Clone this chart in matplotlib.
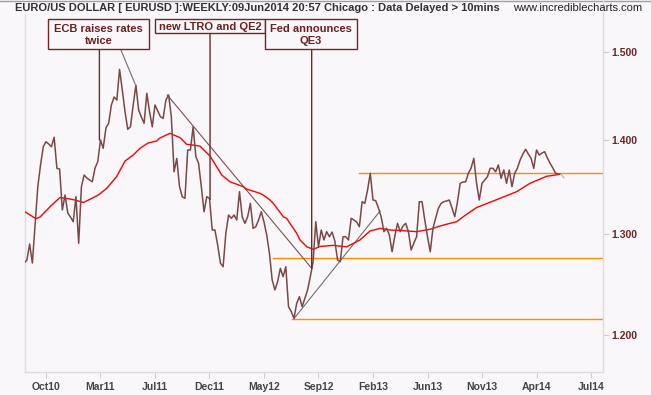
import matplotlib
matplotlib.use("Agg")
import matplotlib.pyplot as plt
from matplotlib.patches import Rectangle, ConnectionPatch
from matplotlib.lines import Line2D

plt.rcParams['font.family'] = ['Liberation Sans', 'DejaVu Sans']

# ########################################## DATA ##########################################
# weekly EUR/USD close, week 0 = first bar of Oct 2010
weeks = list(range(-8, 191))
close = [
    1.2701, 1.2731, 1.2893, 1.2701, 1.3088, 1.3489, 1.3722, 1.3921,
    1.3976, 1.3951, 1.3921, 1.4025, 1.3686, 1.3678, 1.3243, 1.3401, 1.3212, 1.3170,
    1.3122, 1.3383, 1.2900, 1.3489, 1.3614, 1.3582, 1.3560, 1.3542, 1.3689, 1.3757,
    1.3995, 1.3904, 1.4128, 1.4181, 1.4387, 1.4478, 1.4443, 1.4797, 1.4558, 1.4311,
    1.4114, 1.4142, 1.4387, 1.4615, 1.4330, 1.4251, 1.4181, 1.4520, 1.4311, 1.4142,
    1.4387, 1.4319, 1.4254, 1.4236, 1.4443, 1.4501, 1.4254, 1.3649, 1.3794, 1.3489,
    1.3383, 1.3366, 1.3885, 1.3885, 1.4142, 1.3812, 1.3740, 1.3489, 1.3225, 1.3383,
    1.3366, 1.3036, 1.3036, 1.2883, 1.2701, 1.2664, 1.3002, 1.3191, 1.3157, 1.3191,
    1.3139, 1.3436, 1.3173, 1.3105, 1.3173, 1.3313, 1.3053, 1.3070, 1.3139, 1.3225,
    1.3119, 1.2985, 1.2799, 1.2532, 1.2434, 1.2515, 1.2648, 1.2565, 1.2664, 1.2271,
    1.2223, 1.2159, 1.2304, 1.2368, 1.2271, 1.2352, 1.2434, 1.2565, 1.2711, 1.3122,
    1.2865, 1.3036, 1.2934, 1.3019, 1.2967, 1.3015, 1.2923, 1.2731, 1.2714, 1.2967,
    1.2967, 1.2934, 1.3157, 1.3139, 1.3119, 1.3070, 1.3330, 1.3313, 1.3454, 1.3632,
    1.3348, 1.3341, 1.3264, 1.3173, 1.3019, 1.3053, 1.2985, 1.2815, 1.2974, 1.3105,
    1.3019, 1.3077, 1.3105, 1.3019, 1.2832, 1.2903, 1.2967, 1.3330, 1.3330, 1.3139,
    1.2967, 1.2815, 1.3053, 1.3160, 1.3261, 1.3313, 1.3330, 1.3338, 1.3348, 1.3264,
    1.3173, 1.3330, 1.3525, 1.3539, 1.3542, 1.3632, 1.3689, 1.3794, 1.3525, 1.3348,
    1.3525, 1.3560, 1.3596, 1.3686, 1.3686, 1.3649, 1.3722, 1.3578, 1.3668, 1.3525,
    1.3668, 1.3489, 1.3632, 1.3689, 1.3776, 1.3841, 1.3893, 1.3841, 1.3794, 1.3686,
    1.3885, 1.3830, 1.3852, 1.3866, 1.3798, 1.3740, 1.3689, 1.3632, 1.3625, 1.3621,
    1.3585,
]

# moving average (red)
ma_weeks = [-7.7, -3.7, -2.2, 1.5, 5.1, 8.8, 10.6, 13.7, 16.1, 19.2, 22.3, 25.9, 29.0,
            32.0, 34.5, 37.5, 40.6, 41.8, 45.5, 49.2, 51.6, 54.1, 56.5, 60.2, 64.5,
            67.5, 72.4, 73.7, 78.5, 79.7, 82.2, 83.4, 87.1, 88.3, 92.0, 93.2, 95.7,
            98.1, 100.6, 105.4, 110.3, 115.2, 118.9, 122.6, 126.2, 131.1, 136.0,
            140.9, 144.6, 148.3, 150.7, 153.1, 158.0, 165.4, 172.7, 177.6, 183.7, 188.6]
ma_values = [1.3225, 1.3153, 1.3170, 1.3278, 1.3374, 1.3359, 1.3348, 1.3322, 1.3355,
             1.3401, 1.3472, 1.3596, 1.3765, 1.3830, 1.3904, 1.3962, 1.3984, 1.4017,
             1.4069, 1.4021, 1.3948, 1.3939, 1.3928, 1.3819, 1.3614, 1.3542, 1.3489,
             1.3463, 1.3419, 1.3401, 1.3348, 1.3313, 1.3173, 1.3157, 1.3002, 1.2934,
             1.2865, 1.2839, 1.2868, 1.2879, 1.2864, 1.2934, 1.3026, 1.3053, 1.3036,
             1.3029, 1.3019, 1.3043, 1.3077, 1.3105, 1.3122, 1.3173, 1.3269, 1.3352,
             1.3436, 1.3525, 1.3600, 1.3621]

tick_weeks = list(range(0, 201, 20))
tick_labels = ["Oct10", "Mar11", "Jul11", "Dec11", "May12", "Sep12",
               "Feb13", "Jun13", "Nov13", "Apr14", "Jul14"]
price_ticks = [1.2, 1.3, 1.4, 1.5]

# support / resistance levels: (price, start week)
level_prices = [1.3636, 1.2749, 1.2152]
level_starts = [114.9, 83.4, 90.2]

# trend lines: ([w0, w1], [p0, p1])
down_trend = ([44.5, 97.5], [1.4501, 1.2648])
up_trend = ([91.1, 122.6], [1.2159, 1.3233])
ecb_pointer = ([26.9, 32.7], [1.5072, 1.4627])

# event notes: text, box (x0, y0, x1, y1) in image pixels, week, price
notes = ["ECB raises rates\ntwice", "new LTRO and QE2", "Fed announces\nQE3"]
note_boxes = [(48.3, 19.3, 149.3, 49.3), (155.3, 19.3, 265, 33.3), (265, 19.3, 356.7, 49.3)]
note_weeks = [19.6, 60.2, 97.5]
note_prices = [1.3996, 1.3354, 1.2648]

# ########################################## PLOT ##########################################
W, H = 651, 395
BG = "#f9f7f9"


def fx(px):
    return px / W


def fy(py):
    return 1 - py / H


fig = plt.figure(figsize=(W / 100, H / 100), dpi=100, facecolor=BG)
ax = fig.add_axes([fx(25), fy(372), fx(603) - fx(25), fy(15) - fy(372)], facecolor=BG)

ax.set_yscale("log")
ax.set_xlim(-7.7, 204.4)
ax.set_ylim(1.1655, 1.5445)

for p, s in zip(level_prices, level_starts):
    ax.plot([s, 204.4], [p, p], color="#ff8c00", lw=1.0, zorder=2)

ax.plot(*down_trend, color="#7a5050", lw=0.8, zorder=3)
ax.plot(*up_trend, color="#707070", lw=0.8, zorder=3)
ax.plot(*ecb_pointer, color="#707070", lw=0.8, zorder=3)

ax.plot(ma_weeks, ma_values, color="#ff0000", lw=1.0, zorder=4)
ax.plot(weeks[:-1], close[:-1], color="#7a4848", lw=1.1, zorder=5)
ax.plot(weeks[-2:], close[-2:], color="#dcbcbc", lw=1.1, zorder=5)

ax.yaxis.tick_right()
ax.set_yticks(price_ticks)
ax.set_yticklabels(["%.3f" % v for v in price_ticks])
ax.yaxis.set_minor_locator(matplotlib.ticker.NullLocator())
ax.set_xticks(tick_weeks)
ax.set_xticklabels(tick_labels)
ax.tick_params(axis="y", length=4, color="#cfcfcf", pad=2, labelcolor="#6b2525",
               labelsize=7.5)
ax.tick_params(axis="x", length=4, color="#cfcfcf", pad=3, labelcolor="#444444",
               labelsize=7.5)
for lab in ax.get_xticklabels() + ax.get_yticklabels():
    lab.set_fontweight("bold")

for side in ["left", "right", "bottom"]:
    ax.spines[side].set_color("#dddddd")
    ax.spines[side].set_linewidth(1)
ax.spines["top"].set_visible(False)

# frame bits outside the axes
fig.add_artist(Line2D([0, 1], [fy(0.5), fy(0.5)], transform=fig.transFigure,
                      color="#a0a0a0", lw=1))
fig.add_artist(Line2D([fx(603), fx(603)], [fy(0), fy(15)], transform=fig.transFigure,
                      color="#dddddd", lw=1))

fig.text(fx(15), fy(8), "EURO/US DOLLAR [ EURUSD ]:WEEKLY:09Jun2014 20:57 Chicago : Data Delayed > 10mins",
         fontsize=8, fontweight="bold", color="#333333", ha="left", va="center")
fig.text(fx(642), fy(8), "www.incrediblecharts.com", fontsize=8, color="#222222",
         ha="right", va="center")

# event notes
for txt, box, w, p in zip(notes, note_boxes, note_weeks, note_prices):
    x0, y0, x1, y1 = box
    fig.add_artist(Rectangle((fx(x0), fy(y1)), fx(x1) - fx(x0), fy(y0) - fy(y1),
                             transform=fig.transFigure, facecolor=BG,
                             edgecolor="#6b2a2a", lw=1, zorder=6))
    fig.text(fx((x0 + x1) / 2), fy((y0 + y1) / 2 + 0.5), txt, fontsize=8, fontweight="bold",
             color="#6b1f1f", ha="center", va="center", linespacing=1.2, zorder=7)
    x_disp = ax.transData.transform((w, p))[0]
    con = ConnectionPatch(xyA=(w, p), coordsA=ax.transData,
                          xyB=(x_disp / W, fy(y1)),
                          coordsB=fig.transFigure, color="#6b2a2a", lw=1)
    fig.add_artist(con)

fig.savefig("out.png", dpi=100, facecolor=BG)
